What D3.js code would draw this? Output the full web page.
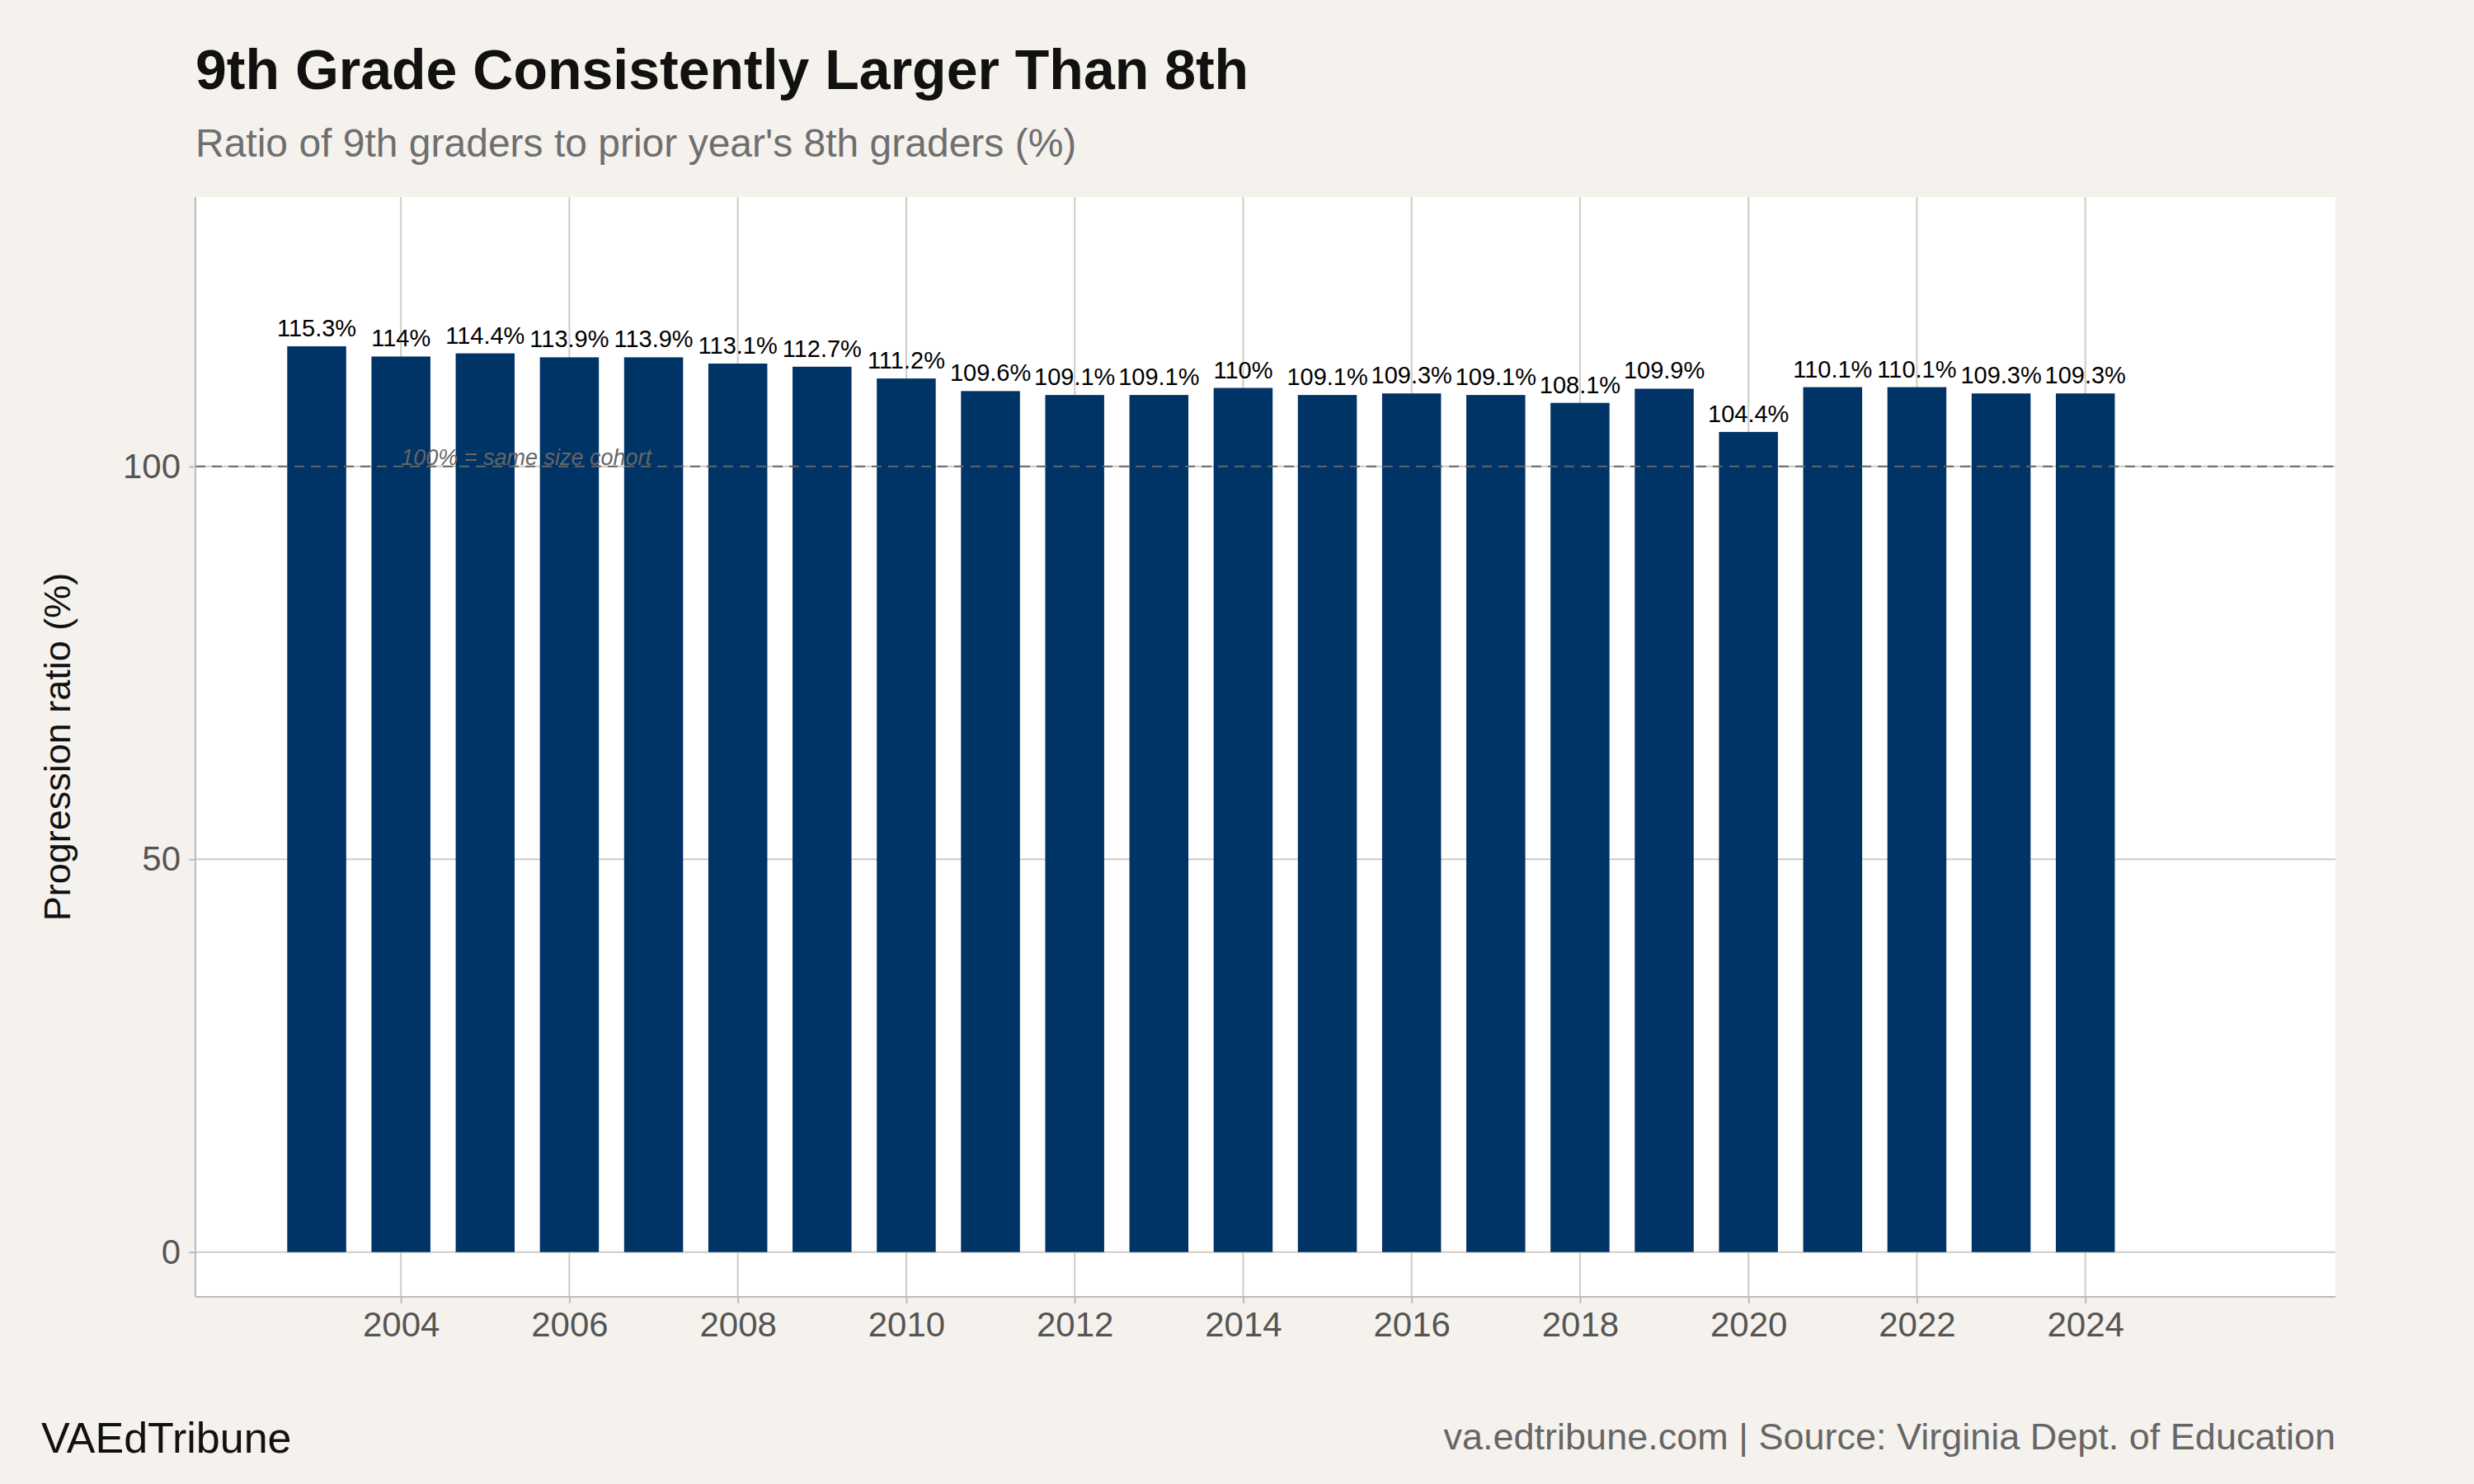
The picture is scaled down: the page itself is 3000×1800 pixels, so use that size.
<!DOCTYPE html>
<html><head><meta charset="utf-8">
<script src="https://cdn.jsdelivr.net/npm/d3@7"></script>
<style>body{margin:0;background:#f5f2ed}svg{display:block;font-family:"Liberation Sans",Arial,sans-serif}</style>
</head><body><svg id="c" width="3000" height="1800"></svg>
<script>
const years=[2003,2004,2005,2006,2007,2008,2009,2010,2011,2012,2013,2014,2015,2016,2017,2018,2019,2020,2021,2022,2023,2024];
const ratios=[115.3,114,114.4,113.9,113.9,113.1,112.7,111.2,109.6,109.1,109.1,110,109.1,109.3,109.1,108.1,109.9,104.4,110.1,110.1,109.3,109.3];
const xTicks=[2004,2006,2008,2010,2012,2014,2016,2018,2020,2022,2024];
const yTicks=[0,50,100];
const svg=d3.select("#c");
svg.append("rect").attr("width",3000).attr("height",1800).attr("fill","#f5f2ed");
const L=237,R=2832,T=239,B=1573;
const x=d3.scaleLinear().domain([2001.56,2026.97]).range([L,R]);
const y=d3.scaleLinear().domain([-5.7,134.3]).range([B,T]);
svg.append("rect").attr("x",L).attr("y",T).attr("width",R-L).attr("height",B-T).attr("fill","#fff");
const g=svg.append("g");
xTicks.forEach(t=>g.append("line").attr("x1",x(t)).attr("x2",x(t)).attr("y1",T).attr("y2",B).attr("stroke","#cfccc6").attr("stroke-width",2));
yTicks.forEach(t=>g.append("line").attr("x1",L).attr("x2",R).attr("y1",y(t)).attr("y2",y(t)).attr("stroke","#cfccc6").attr("stroke-width",2));
const bw=(x(1)-x(0))*0.7;
svg.selectAll(".bar").data(years).join("rect").attr("x",d=>x(d)-bw/2).attr("width",bw)
 .attr("y",(d,i)=>y(ratios[i])).attr("height",(d,i)=>y(0)-y(ratios[i])).attr("fill","#003366");
svg.append("line").attr("x1",L).attr("x2",R).attr("y1",y(100)).attr("y2",y(100)).attr("stroke","#666").attr("stroke-width",2).attr("stroke-dasharray","12,8");
svg.append("text").attr("x",x(2004)).attr("y",y(100)-2).attr("font-size",27).attr("font-style","italic").attr("fill","#666").text("100% = same size cohort");
svg.selectAll(".lbl").data(years).join("text").attr("x",d=>x(d)).attr("y",(d,i)=>y(ratios[i])-12).attr("text-anchor","middle").attr("font-size",29).attr("fill","#000").text((d,i)=>ratios[i]+"%");
const xa=svg.append("g").attr("transform",`translate(0,${B})`).call(d3.axisBottom(x).tickValues(xTicks).tickFormat(d3.format("d")).tickSize(8).tickPadding(10));
const ya=svg.append("g").attr("transform",`translate(${L},0)`).call(d3.axisLeft(y).tickValues(yTicks).tickSize(8).tickPadding(10));
[xa,ya].forEach(a=>{a.select(".domain").attr("stroke","#bbb").attr("stroke-width",2);a.selectAll("line").attr("stroke","#bbb").attr("stroke-width",2);a.selectAll("text").attr("font-size",42).attr("fill","#555").attr("font-family","Liberation Sans, Arial");});
ya.select(".domain").attr("d",`M0,${T}V${B}`);
xa.select(".domain").attr("d",`M${L},0H${R}`);
svg.append("text").attr("transform",`translate(85,${(T+B)/2}) rotate(-90)`).attr("text-anchor","middle").attr("font-size",45).attr("fill","#111").text("Progression ratio (%)");
svg.append("text").attr("x",L).attr("y",108).attr("font-size",68).attr("font-weight","bold").attr("fill","#111").text("9th Grade Consistently Larger Than 8th");
svg.append("text").attr("x",L).attr("y",190).attr("font-size",48).attr("fill","#6f6f6f").text("Ratio of 9th graders to prior year's 8th graders (%)");
svg.append("text").attr("x",50).attr("y",1762).attr("font-size",52).attr("fill","#111").text("VAEdTribune");
svg.append("text").attr("x",R).attr("y",1758).attr("text-anchor","end").attr("font-size",45).attr("fill","#666").text("va.edtribune.com | Source: Virginia Dept. of Education");
</script></body></html>
